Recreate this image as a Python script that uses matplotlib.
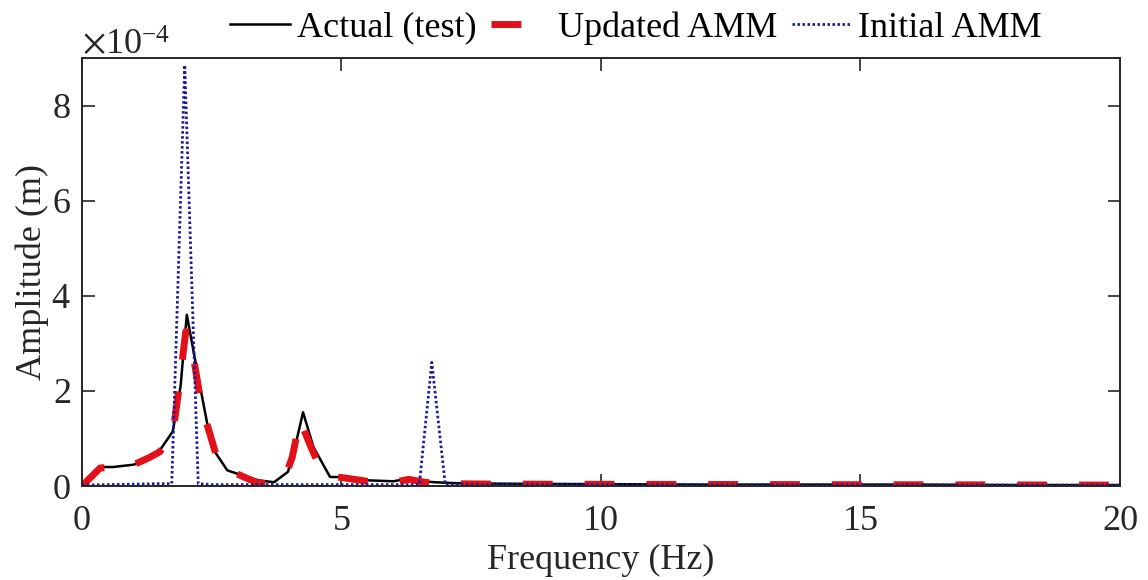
import matplotlib
matplotlib.use("Agg")
import matplotlib.pyplot as plt
from matplotlib.ticker import ScalarFormatter
import numpy as np

plt.rcParams['font.family'] = ['Liberation Serif', 'DejaVu Serif']
plt.rcParams['mathtext.fontset'] = 'stix'
plt.rcParams['font.size'] = 26

# amplitude values in units of 1e-4 m
freq_actual = [0, 0.35, 0.6, 1.0, 1.3, 1.5, 1.75, 1.9, 2.02, 2.24, 2.5, 2.8, 3.1, 3.4, 3.7,
               3.97, 4.1, 4.26, 4.46, 4.78, 5.03, 5.5, 6.0, 6.3, 6.55, 6.8, 7.2, 8, 10, 12,
               14, 16, 18, 20]
amp_actual = [0, 0.4, 0.4, 0.45, 0.6, 0.75, 1.15, 2.1, 3.6, 2.3, 0.82, 0.33, 0.22, 0.12, 0.08,
              0.3, 0.8, 1.55, 0.82, 0.19, 0.19, 0.12, 0.1, 0.16, 0.1, 0.08, 0.06, 0.05, 0.04, 0.03,
              0.03, 0.03, 0.02, 0.02]

freq_updated = [0, 0.35, 0.6, 1.0, 1.3, 1.5, 1.75, 1.85, 2.0, 2.15, 2.3, 2.6, 2.8, 3.1, 3.4,
                3.7, 3.9, 4.05, 4.2, 4.4, 4.6, 4.8, 5.0, 5.5, 6.0, 6.3, 6.6, 7, 8, 20]
amp_updated = [0, 0.38, 0.4, 0.45, 0.6, 0.72, 1.1, 1.9, 3.25, 2.7, 1.7, 0.6, 0.35, 0.2, 0.06,
               0.05, 0.15, 0.6, 1.4, 0.85, 0.35, 0.2, 0.18, 0.1, 0.08, 0.14, 0.08, 0.05, 0.04, 0.02]

freq_initial = [0, 1.5, 1.73, 1.98, 2.24, 2.5, 6.5, 6.74, 7.0, 20]
amp_initial = [0.02, 0.05, 0.05, 8.85, 0.05, 0.03, 0.03, 2.6, 0.03, 0.02]

scale = 1e-4

fig = plt.figure(figsize=(11.48, 5.8), dpi=100)
ax = fig.add_axes([0.0714, 0.162, 0.9042, 0.738])

ax.plot(freq_actual, np.array(amp_actual) * scale, color='black', lw=1.8,
        label='Actual (test)')
ax.plot(freq_updated, np.array(amp_updated) * scale, color='#e41018', lw=5,
        dashes=(4.3, 4.6), label='Updated AMM')
ax.plot(freq_initial, np.array(amp_initial) * scale, color='#1a1aa0', lw=2.0,
        dashes=(0.9, 0.9), label='Initial AMM')

ax.set_xlim(0, 20)
ax.set_ylim(0, 9e-4)
ax.set_xticks([0, 5, 10, 15, 20])
ax.set_yticks(np.array([0, 2, 4, 6, 8]) * scale)

fmt = ScalarFormatter(useMathText=True)
fmt.set_powerlimits((-3, 3))
ax.yaxis.set_major_formatter(fmt)
ax.yaxis.get_offset_text().set_fontsize(26)

ax.tick_params(direction='in', length=9, width=1.2, top=True, right=True,
               labelsize=26, colors='#262626')
ax.tick_params(axis='x', pad=14)
ax.tick_params(axis='y', pad=8)
for sp in ax.spines.values():
    sp.set_linewidth(1.4)
    sp.set_color('#262626')

ax.set_xlabel('Frequency (Hz)', color='#262626', labelpad=4)
ax.set_ylabel('Amplitude (m)', color='#262626', labelpad=2)

fig.legend(loc='center', bbox_to_anchor=(0.554, 0.952), ncol=3, frameon=False,
           handlelength=1.65, handletextpad=0.2, columnspacing=0.4, fontsize=26)

fig.savefig('out.png', dpi=100)
